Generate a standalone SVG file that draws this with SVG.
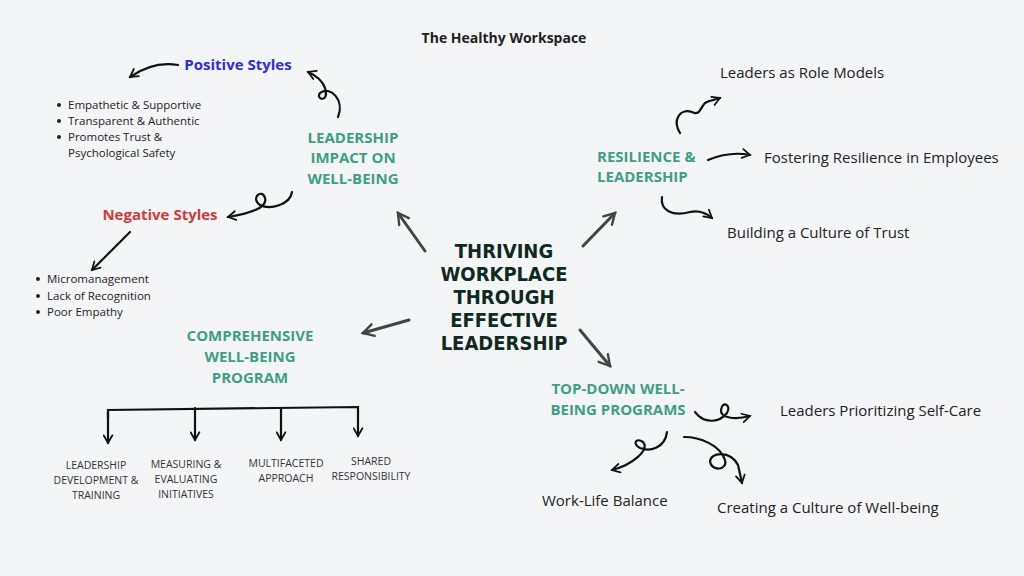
<svg xmlns="http://www.w3.org/2000/svg" width="1024" height="576" viewBox="0 0 1024 576">
<style>
.t{font-family:"Open Sans","Liberation Sans",sans-serif;fill:#222}
.h{font-family:"Open Sans","Liberation Sans",sans-serif;font-weight:bold;fill:#3d9f86;font-size:15px;text-anchor:middle}
.s{font-size:11.5px}
.m{font-size:10.5px;text-anchor:middle;fill:#333}
.l{font-size:15px}
.c{stroke:#111;stroke-width:2.2;fill:none;stroke-linecap:round}
.g{stroke:#444;stroke-width:3;fill:none;stroke-linecap:round}
.ctr{font-family:"DejaVu Sans",sans-serif;font-stretch:condensed;font-weight:bold;font-size:20px;fill:#0f2a1f;text-anchor:middle}
.pos{fill:#2c2ce6}
.neg{fill:#d63838}
</style>
<defs>
<marker id="a" viewBox="0 0 10 10" refX="8" refY="5" markerWidth="5" markerHeight="5" orient="auto" markerUnits="strokeWidth"><path d="M1,1 L8,5 L1,9" fill="none" stroke="#111" stroke-width="1.6" stroke-linecap="round"/></marker>
<marker id="b" viewBox="0 0 10 10" refX="8" refY="5" markerWidth="5" markerHeight="5" orient="auto" markerUnits="strokeWidth"><path d="M1,1 L8,5 L1,9" fill="none" stroke="#444" stroke-width="1.6" stroke-linecap="round"/></marker>
</defs>
<rect width="1024" height="576" fill="#f4f5f7"/>
<text x="504" y="43" class="t" font-size="14" font-weight="bold" text-anchor="middle">The Healthy Workspace</text>
<g id="center">
<text class="ctr" x="504" y="258">THRIVING</text>
<text class="ctr" x="504" y="281">WORKPLACE</text>
<text class="ctr" x="504" y="304">THROUGH</text>
<text class="ctr" x="504" y="327">EFFECTIVE</text>
<text class="ctr" x="504" y="350">LEADERSHIP</text>
</g>
<g id="leadership-impact">
<text class="h" x="353" y="143">LEADERSHIP</text>
<text class="h" x="353" y="163">IMPACT ON</text>
<text class="h" x="353" y="184">WELL-BEING</text>
</g>
<g id="positive">
<text class="t pos" x="238" y="70" font-size="15" font-weight="bold" text-anchor="middle">Positive Styles</text>
<g class="t s"><text x="68" y="109">Empathetic &amp; Supportive</text><text x="68" y="125">Transparent &amp; Authentic</text><text x="68" y="141">Promotes Trust &amp;</text><text x="68" y="157">Psychological Safety</text></g>
<g fill="#222"><circle cx="59" cy="105" r="2"/><circle cx="59" cy="121" r="2"/><circle cx="59" cy="137" r="2"/></g>
</g>
<g id="negative">
<text class="t neg" x="160" y="220" font-size="15" font-weight="bold" text-anchor="middle">Negative Styles</text>
<g class="t s"><text x="47" y="283">Micromanagement</text><text x="47" y="300">Lack of Recognition</text><text x="47" y="316">Poor Empathy</text></g>
<g fill="#222"><circle cx="38" cy="279" r="2"/><circle cx="38" cy="296" r="2"/><circle cx="38" cy="312" r="2"/></g>
</g>
<g id="comprehensive">
<text class="h" x="250" y="341">COMPREHENSIVE</text>
<text class="h" x="250" y="362">WELL-BEING</text>
<text class="h" x="250" y="383">PROGRAM</text>
<g class="t m"><text x="96" y="469">LEADERSHIP</text><text x="96" y="484">DEVELOPMENT &amp;</text><text x="96" y="499">TRAINING</text>
<text x="186" y="468">MEASURING &amp;</text><text x="186" y="483">EVALUATING</text><text x="186" y="498">INITIATIVES</text>
<text x="286" y="467">MULTIFACETED</text><text x="286" y="482">APPROACH</text>
<text x="371" y="465">SHARED</text><text x="371" y="480">RESPONSIBILITY</text></g>
</g>
<g id="resilience">
<text class="h" x="597" y="162" text-anchor="start" style="text-anchor:start">RESILIENCE &amp;</text>
<text class="h" x="597" y="182" style="text-anchor:start">LEADERSHIP</text>
<text class="t l" x="720" y="78">Leaders as Role Models</text>
<text class="t l" x="764" y="163">Fostering Resilience in Employees</text>
<text class="t l" x="727" y="238">Building a Culture of Trust</text>
</g>
<g id="topdown">
<text class="h" x="618" y="394">TOP-DOWN WELL-</text>
<text class="h" x="618" y="415">BEING PROGRAMS</text>
<text class="t l" x="780" y="416">Leaders Prioritizing Self-Care</text>
<text class="t l" x="542" y="506">Work-Life Balance</text>
<text class="t l" x="717" y="513">Creating a Culture of Well-being</text>
</g>
<g id="connectors">
<path class="g" marker-end="url(#b)" d="M425,251 L398,213"/>
<path class="g" marker-end="url(#b)" d="M583,246 L615,213"/>
<path class="g" marker-end="url(#b)" d="M409,320 L363,333"/>
<path class="g" marker-end="url(#b)" d="M580,330 L610,366"/>
<path class="c" marker-end="url(#a)" d="M338,117 C345,100 330,85 320,93 C315,100 330,103 325,88 C322,80 315,75 308,72"/>
<path class="c" marker-end="url(#a)" d="M178,65 C160,62 143,68 130,77"/>
<path class="c" marker-end="url(#a)" d="M292,192 C290,205 270,210 260,205 C250,198 262,188 265,198 C268,208 250,213 228,217"/>
<path class="c" marker-end="url(#a)" d="M130,232 L92,270"/>
<path class="c" marker-end="url(#a)" d="M108,418 L108,410 L358,407 L358,436"/>
<path class="c" marker-end="url(#a)" d="M108,412 L108,443"/>
<path class="c" marker-end="url(#a)" d="M195,408 L195,440"/>
<path class="c" marker-end="url(#a)" d="M281,408 L281,440"/>
<path class="c" marker-end="url(#a)" d="M680,133 C672,120 680,108 692,112 C700,116 700,108 705,103 C710,100 715,100 720,98"/>
<path class="c" marker-end="url(#a)" d="M708,160 C720,155 735,152 750,155"/>
<path class="c" marker-end="url(#a)" d="M662,197 C660,210 672,217 690,212 C700,210 706,213 712,218"/>
<path class="c" marker-end="url(#a)" d="M695,412 C705,425 720,422 727,413 C732,405 722,400 721,410 C720,418 735,420 750,416"/>
<path class="c" marker-end="url(#a)" d="M667,432 C665,448 650,452 640,448 C632,444 636,437 643,442 C650,450 632,465 612,470"/>
<path class="c" marker-end="url(#a)" d="M684,437 C700,437 720,445 725,460 C728,470 712,472 710,462 C710,452 730,450 738,465 L742,483"/>
</g>
</svg>
